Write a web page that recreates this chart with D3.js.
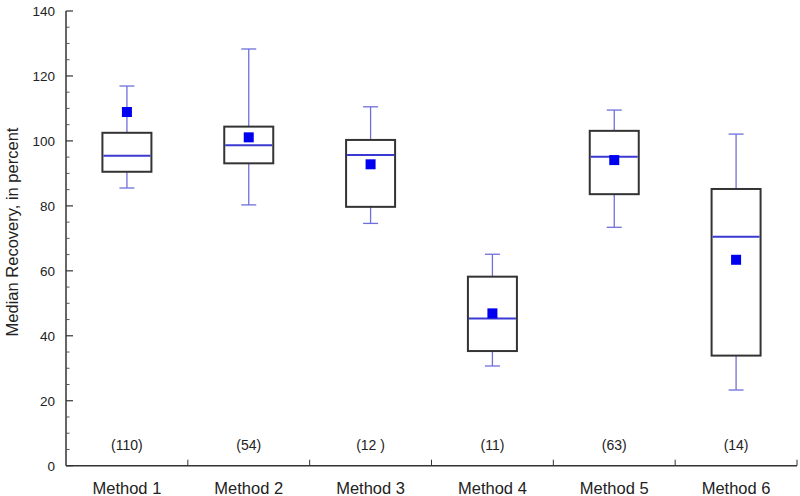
<!DOCTYPE html>
<html><head><meta charset="utf-8">
<script src="https://cdn.jsdelivr.net/npm/d3@7"></script>
<style>
html,body{margin:0;padding:0;background:#fff;}
text{font-family:"Liberation Sans",Arial,sans-serif;fill:#222;}
</style></head>
<body>
<svg id="chart" width="800" height="496"></svg>
<script>
const methods = ["Method 1","Method 2","Method 3","Method 4","Method 5","Method 6"];
const counts = ["(110)","(54)","(12 )","(11)","(63)","(14)"];
const whiskerLow  = [85.5, 80.3, 74.6, 30.7, 73.4, 23.3];
const q1          = [90.5, 93.1, 79.7, 35.3, 83.6, 33.9];
const medians     = [95.4, 98.7, 95.7, 45.3, 95.1, 70.5];
const q3          = [102.5,104.4,100.3,58.2,103.1, 85.2];
const whiskerHigh = [116.9,128.3,110.5,65.1,109.5,102.1];
const means       = [108.9,101.1, 92.8,46.9, 94.1, 63.4];
const yTicks = [0,20,40,60,80,100,120,140];
const yMinorTicks = d3.range(0,141,5).filter(v => v % 20 !== 0);

const svg = d3.select("#chart");
const x = d3.scaleBand().domain(methods).range([66, 797]).padding(0);
const y = d3.scaleLinear().domain([0,140]).range([465.7, 11]);

const data = methods.map((m,i)=>({m, lo:whiskerLow[i], q1:q1[i], med:medians[i], q3:q3[i], hi:whiskerHigh[i], mean:means[i], n:counts[i]}));

const boxW = 49, capW = 15;
const g = svg.append("g");
const cx = d => x(d.m) + x.bandwidth()/2;

// whiskers
g.selectAll(".wl").data(data).join("line")
  .attr("x1",cx).attr("x2",cx).attr("y1",d=>y(d.q3)).attr("y2",d=>y(d.hi))
  .attr("stroke","#6f6fdc").attr("stroke-width",1.3);
g.selectAll(".wl2").data(data).join("line")
  .attr("x1",cx).attr("x2",cx).attr("y1",d=>y(d.q1)).attr("y2",d=>y(d.lo))
  .attr("stroke","#6f6fdc").attr("stroke-width",1.3);
g.selectAll(".caph").data(data).join("line")
  .attr("x1",d=>cx(d)-capW/2).attr("x2",d=>cx(d)+capW/2).attr("y1",d=>y(d.hi)).attr("y2",d=>y(d.hi))
  .attr("stroke","#6f6fdc").attr("stroke-width",1.3);
g.selectAll(".capl").data(data).join("line")
  .attr("x1",d=>cx(d)-capW/2).attr("x2",d=>cx(d)+capW/2).attr("y1",d=>y(d.lo)).attr("y2",d=>y(d.lo))
  .attr("stroke","#6f6fdc").attr("stroke-width",1.3);

// boxes
g.selectAll(".box").data(data).join("rect")
  .attr("x",d=>cx(d)-boxW/2).attr("width",boxW)
  .attr("y",d=>y(d.q3)).attr("height",d=>y(d.q1)-y(d.q3))
  .attr("fill","#fff").attr("stroke","#333").attr("stroke-width",2);
// medians
g.selectAll(".med").data(data).join("line")
  .attr("x1",d=>cx(d)-boxW/2+1).attr("x2",d=>cx(d)+boxW/2-1).attr("y1",d=>y(d.med)).attr("y2",d=>y(d.med))
  .attr("stroke","#3a3ad2").attr("stroke-width",2);
// means
const ms = 10;
g.selectAll(".mean").data(data).join("rect")
  .attr("x",d=>cx(d)-ms/2).attr("y",d=>y(d.mean)-ms/2).attr("width",ms).attr("height",ms)
  .attr("fill","#0000f0");

// counts
g.selectAll(".cnt").data(data).join("text")
  .attr("x",cx).attr("y",y(0)-16).attr("text-anchor","middle")
  .attr("font-size",14).text(d=>d.n);

// y axis
const yAxis = svg.append("g").attr("transform","translate(66,0)");
yAxis.append("line").attr("x1",0).attr("x2",0).attr("y1",y(140)).attr("y2",y(0)).attr("stroke","#333").attr("stroke-width",1.5);
yAxis.selectAll(".maj").data(yTicks).join("line")
  .attr("x1",0).attr("x2",7).attr("y1",d=>y(d)).attr("y2",d=>y(d)).attr("stroke","#333").attr("stroke-width",1.2);
yAxis.selectAll(".min").data(yMinorTicks).join("line")
  .attr("x1",0).attr("x2",3.5).attr("y1",d=>y(d)).attr("y2",d=>y(d)).attr("stroke","#555").attr("stroke-width",1);
yAxis.selectAll(".lab").data(yTicks).join("text")
  .attr("x",-11).attr("y",d=>y(d)).attr("dy","0.36em").attr("text-anchor","end")
  .attr("font-size",13.5).text(d=>d);

// x axis
const xAxis = svg.append("g");
xAxis.append("line").attr("x1",66).attr("x2",797).attr("y1",y(0)).attr("y2",y(0)).attr("stroke","#333").attr("stroke-width",1.5);
xAxis.selectAll(".sep").data(methods).join("line")
  .attr("x1",d=>x(d)+x.bandwidth()).attr("x2",d=>x(d)+x.bandwidth())
  .attr("y1",y(0)).attr("y2",y(0)-6).attr("stroke","#333").attr("stroke-width",1);
xAxis.selectAll(".xl").data(methods).join("text")
  .attr("x",d=>x(d)+x.bandwidth()/2).attr("y",494).attr("text-anchor","middle")
  .attr("font-size",16.5).text(d=>d);

// y axis title
svg.append("text").attr("transform","translate(18,232) rotate(-90)")
  .attr("text-anchor","middle").attr("font-size",16.5).text("Median Recovery, in percent");
</script>
</body></html>
